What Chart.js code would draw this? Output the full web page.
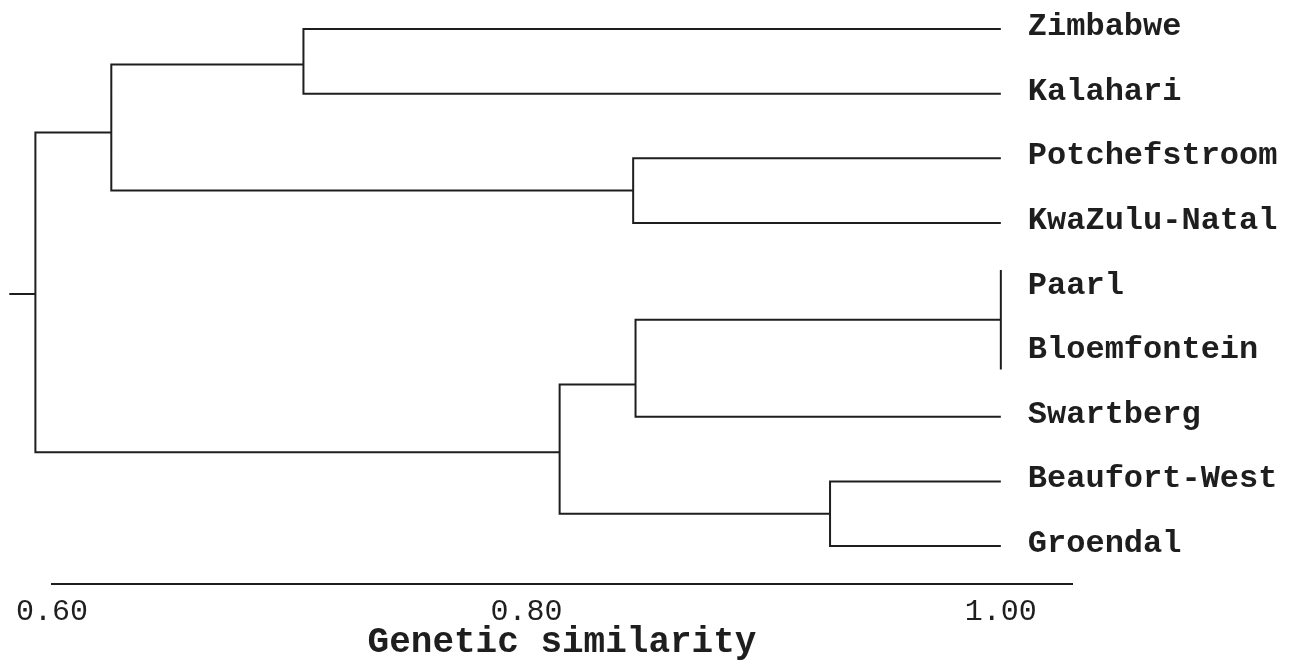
<!DOCTYPE html>
<html>
<head>
<meta charset="utf-8">
<script src="https://cdn.jsdelivr.net/npm/chart.js@4/dist/chart.umd.min.js"></script>
<style>
  html, body { margin: 0; padding: 0; background: #fff; }
  #wrap { width: 1300px; height: 666px; }
</style>
</head>
<body>
<div id="wrap"><canvas id="tree"></canvas></div>
<script>
// leaves, top to bottom
const leaves = ['Zimbabwe', 'Kalahari', 'Potchefstroom', 'KwaZulu-Natal', 'Paarl',
    'Bloemfontein', 'Swartberg', 'Beaufort-West', 'Groendal'];

// merges in order: ids 0-8 are leaves, id 9 is the first merge, 10 the second ...
const mergeA = [0, 2, 9, 4, 12, 7, 13, 11];
const mergeB = [1, 3, 10, 5, 6, 8, 14, 15];
const mergeSim = [0.706, 0.845, 0.625, 1.00, 0.846, 0.928, 0.814, 0.593];
// row (in leaf units) where each merged cluster hangs from its parent
const mergeRow = [0.55, 2.5, 1.6, 4.5, 5.5, 7.5, 6.55, 4.1];
const rootStub = 0.582;

const tickValues = [0.60, 0.80, 1.00];

const FONT = "'Liberation Mono', 'Courier New', monospace";
const INK = '#1e1e1e';
const TIE_OVERHANG = 0.27; // identical pairs get a slightly longer bar

// walk the merges and turn each one into a bracket path
const nodeX = leaves.map(() => 1.0);
const nodeY = leaves.map((_, i) => i);
const pts = [];
mergeA.forEach((a, k) => {
    const b = mergeB[k], s = mergeSim[k];
    if (s >= 1) {
        pts.push({x: nodeX[a], y: nodeY[a]}, {x: s, y: nodeY[a]}, {x: null, y: null},
                 {x: nodeX[b], y: nodeY[b]}, {x: s, y: nodeY[b]}, {x: null, y: null},
                 {x: s, y: nodeY[a] - TIE_OVERHANG}, {x: s, y: nodeY[b] + TIE_OVERHANG},
                 {x: null, y: null});
    } else {
        pts.push({x: nodeX[a], y: nodeY[a]}, {x: s, y: nodeY[a]},
                 {x: s, y: nodeY[b]}, {x: nodeX[b], y: nodeY[b]}, {x: null, y: null});
    }
    nodeX.push(s);
    nodeY.push(mergeRow[k]);
});
const root = nodeX.length - 1;
pts.push({x: nodeX[root], y: nodeY[root]}, {x: rootStub, y: nodeY[root]});

const leafLabels = {
    id: 'leafLabels',
    afterDatasetsDraw(chart) {
        const {ctx, scales: {x, y}} = chart;
        ctx.save();
        ctx.font = 'bold 32px ' + FONT;
        ctx.fillStyle = INK;
        ctx.textAlign = 'left';
        ctx.textBaseline = 'middle';
        const x0 = x.getPixelForValue(1.0) + 27;
        leaves.forEach((name, i) => ctx.fillText(name, x0, y.getPixelForValue(i) - 2));
        ctx.restore();
    }
};

const chart = new Chart(document.getElementById('tree'), {
    type: 'scatter',
    data: {
        datasets: [{
            data: pts,
            showLine: true,
            spanGaps: false,
            borderColor: INK,
            borderWidth: 2,
            pointRadius: 0,
            clip: false,
        }]
    },
    options: {
        responsive: true,
        maintainAspectRatio: false,
        animation: false,
        layout: {
            padding: {left: 52, right: 228, top: 0, bottom: 0},
        },
        plugins: {
            legend: {display: false},
            tooltip: {enabled: false},
        },
        scales: {
            x: {
                type: 'linear',
                position: 'bottom',
                min: 0.6,
                max: 1.03,
                grid: {display: false, drawTicks: false},
                border: {display: true, color: INK, width: 2},
                ticks: {
                    color: INK,
                    padding: 10,
                    font: {family: FONT, size: 30},
                    maxRotation: 0,
                    callback: v => v.toFixed(2),
                },
                afterBuildTicks: scale => {
                    scale.ticks = tickValues.map(v => ({value: v}));
                },
                afterFit: scale => {
                    scale.height = 82;
                },
                title: {
                    display: true,
                    text: 'Genetic similarity',
                    color: INK,
                    font: {family: FONT, size: 36, weight: 'bold'},
                    padding: {top: 0, bottom: 1},
                },
            },
            y: {
                type: 'linear',
                display: false,
                reverse: true,
                min: -0.449,
                max: 8.588,
            }
        }
    },
    plugins: [leafLabels],
});
</script>
</body>
</html>
